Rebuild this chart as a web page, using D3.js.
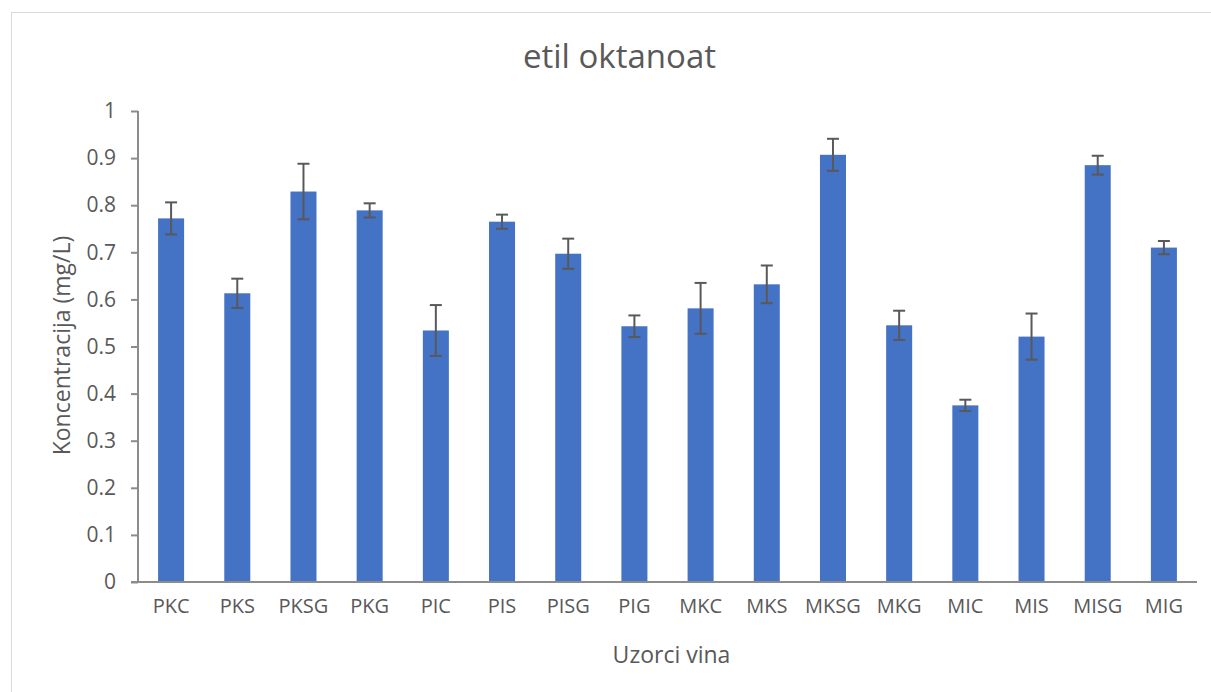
<!DOCTYPE html>
<html>
<head>
<meta charset="utf-8">
<script src="https://cdn.jsdelivr.net/npm/d3@7"></script>
<style>
  body { margin: 0; background: #fff; }
  text { font-family: "Open Sans", sans-serif; fill: #595959; }
</style>
</head>
<body>
<script>
let width = 1211,
  height = 692;

// samples and measured concentration (mg/L) with std. deviation
let samples = ["PKC", "PKS", "PKSG", "PKG", "PIC", "PIS", "PISG", "PIG",
  "MKC", "MKS", "MKSG", "MKG", "MIC", "MIS", "MISG", "MIG"];
let values = [0.772, 0.613, 0.829, 0.789, 0.534, 0.765, 0.697, 0.543,
  0.581, 0.632, 0.907, 0.545, 0.375, 0.521, 0.885, 0.710];
let errors = [0.034, 0.031, 0.059, 0.015, 0.054, 0.015, 0.032, 0.023,
  0.054, 0.040, 0.034, 0.031, 0.012, 0.049, 0.020, 0.014];
let yTicks = [0, 0.1, 0.2, 0.3, 0.4, 0.5, 0.6, 0.7, 0.8, 0.9, 1];

let margin = { left: 138, right: 14, top: 111, bottom: 110 };

let svg = d3.select("body").append("svg")
  .attr("width", width)
  .attr("height", height);

// chart frame
svg.append("rect")
  .attr("x", 11.5).attr("y", 12.5)
  .attr("width", width).attr("height", height)
  .attr("fill", "none")
  .attr("stroke", "#d9d9d9");

let x = d3.scaleBand()
  .domain(samples)
  .range([margin.left, width - margin.right])
  .paddingInner(0.607)
  .paddingOuter(0.3035);

let y = d3.scaleLinear()
  .domain([0, 1])
  .range([height - margin.bottom, margin.top]);

// bars
svg.selectAll(".bar")
  .data(samples)
  .enter().append("rect")
  .attr("class", "bar")
  .attr("x", d => x(d))
  .attr("width", x.bandwidth())
  .attr("y", (d, i) => y(values[i]))
  .attr("height", (d, i) => y(0) - y(values[i]))
  .attr("fill", "#4472c4");

// error bars
let err = svg.selectAll(".err")
  .data(samples)
  .enter().append("g")
  .attr("class", "err")
  .attr("stroke", "#595959")
  .attr("stroke-width", 2);

err.append("line")
  .attr("x1", d => x(d) + x.bandwidth() / 2)
  .attr("x2", d => x(d) + x.bandwidth() / 2)
  .attr("y1", (d, i) => y(values[i] - errors[i]))
  .attr("y2", (d, i) => y(values[i] + errors[i]));

[1, -1].forEach(function(s) {
  err.append("line")
    .attr("x1", d => x(d) + x.bandwidth() / 2 - 6)
    .attr("x2", d => x(d) + x.bandwidth() / 2 + 6)
    .attr("y1", (d, i) => y(values[i] + s * errors[i]))
    .attr("y2", (d, i) => y(values[i] + s * errors[i]));
});

// y axis
let yAxis = svg.append("g")
  .attr("transform", "translate(" + margin.left + ",0)")
  .call(d3.axisLeft(y).tickValues(yTicks).tickSize(7).tickPadding(15)
    .tickFormat(d => d === 0 || d === 1 ? String(d) : d3.format(".1f")(d)));
yAxis.selectAll("line, path").attr("stroke", "#8c8c8c").attr("stroke-width", 2);
yAxis.select("path").attr("d", "M0," + y(1) + "V" + y(0));
yAxis.selectAll("line").attr("x1", -7).attr("x2", 0);
yAxis.selectAll("text").attr("x", -22).style("font-size", "21px").attr("fill", "#595959")
  .style("font-family", "'Open Sans', sans-serif");

// x axis
let xAxis = svg.append("g")
  .attr("transform", "translate(0," + y(0) + ")")
  .call(d3.axisBottom(x).tickSize(0).tickPadding(17));
xAxis.select("path").attr("stroke", "#8c8c8c").attr("stroke-width", 2)
  .attr("d", "M" + (margin.left - 7) + ",0H" + (width - margin.right));
xAxis.selectAll("text").style("font-size", "20px").attr("fill", "#595959")
  .style("font-family", "'Open Sans', sans-serif");

// titles
svg.append("text")
  .attr("x", (margin.left + width - margin.right) / 2 - 48)
  .attr("y", 68)
  .attr("text-anchor", "middle")
  .style("font-size", "33px")
  .text("etil oktanoat");

svg.append("text")
  .attr("x", (margin.left + width - margin.right) / 2 + 4)
  .attr("y", 663)
  .attr("text-anchor", "middle")
  .style("font-size", "23px")
  .text("Uzorci vina");

svg.append("text")
  .attr("transform", "translate(70," + (y(0.5) - 1) + ") rotate(-90)")
  .attr("text-anchor", "middle")
  .style("font-size", "23px")
  .text("Koncentracija (mg/L)");
</script>
</body>
</html>
